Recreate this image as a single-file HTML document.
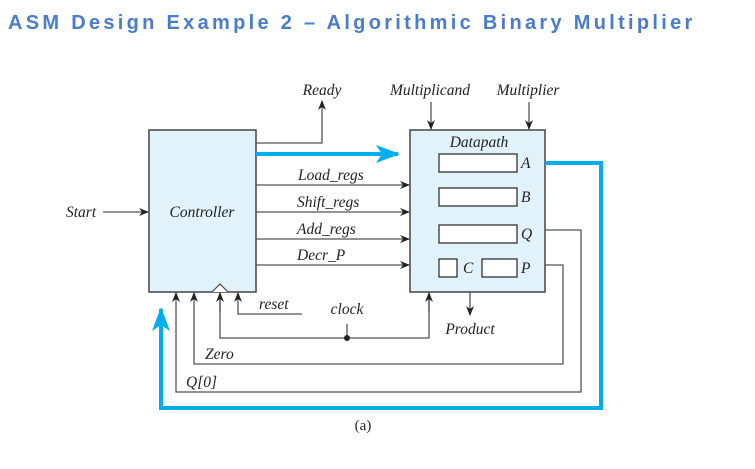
<!DOCTYPE html>
<html><head><meta charset="utf-8"><style>
html,body{margin:0;padding:0;background:#fff;}
svg{display:block;}
.t{font-family:"Liberation Serif",serif;font-style:italic;font-size:15.5px;fill:#222;}
.ln{stroke:#555;stroke-width:1.3;fill:none;}
.bl{stroke:#00aeef;stroke-width:4;fill:none;}
</style></head><body>
<svg width="755" height="469" viewBox="0 0 755 469">
<defs>
<marker id="ah" markerWidth="10" markerHeight="8" refX="9" refY="4" orient="auto" markerUnits="userSpaceOnUse"><path d="M0,0 L10,4 L0,8 L3,4 Z" fill="#222"/></marker>
<marker id="bh" markerWidth="24" markerHeight="18" refX="22" refY="9" orient="auto" markerUnits="userSpaceOnUse"><path d="M0,0 L24,9 L0,18 L6,9 Z" fill="#00aeef"/></marker>
</defs>
<text x="8" y="29" style="font-family:'Liberation Sans',sans-serif;font-weight:bold;font-size:20px;fill:#4a7cc9;letter-spacing:3.3px;">ASM Design Example 2 – Algorithmic Binary Multiplier</text>

<rect x="149" y="130" width="107" height="162" fill="#e1f2fa" stroke="#444" stroke-width="1.5"/>
<text class="t" x="202" y="217" text-anchor="middle">Controller</text>
<path d="M212,292 L220,284 L228,292" stroke="#444" stroke-width="1.2" fill="#fff"/>

<rect x="410" y="130" width="135" height="162" fill="#e1f2fa" stroke="#444" stroke-width="1.5"/>
<text class="t" x="479" y="147" text-anchor="middle">Datapath</text>
<rect x="439" y="154" width="78" height="18" fill="#fff" stroke="#333" stroke-width="1.3"/>
<rect x="439" y="188" width="78" height="18" fill="#fff" stroke="#333" stroke-width="1.3"/>
<rect x="439" y="225" width="78" height="18" fill="#fff" stroke="#333" stroke-width="1.3"/>
<rect x="439" y="259" width="18" height="18" fill="#fff" stroke="#333" stroke-width="1.3"/>
<rect x="482" y="259" width="35" height="18" fill="#fff" stroke="#333" stroke-width="1.3"/>
<text class="t" x="521" y="168">A</text>
<text class="t" x="521" y="202">B</text>
<text class="t" x="521" y="239">Q</text>
<text class="t" x="463" y="273">C</text>
<text class="t" x="521" y="273">P</text>

<line class="bl" x1="256" y1="154" x2="398" y2="154" marker-end="url(#bh)"/>
<line class="ln" x1="256" y1="185" x2="409" y2="185" marker-end="url(#ah)"/>
<line class="ln" x1="256" y1="212" x2="409" y2="212" marker-end="url(#ah)"/>
<line class="ln" x1="256" y1="239" x2="409" y2="239" marker-end="url(#ah)"/>
<line class="ln" x1="256" y1="265" x2="409" y2="265" marker-end="url(#ah)"/>
<text class="t" x="298" y="180">Load_regs</text>
<text class="t" x="297" y="207">Shift_regs</text>
<text class="t" x="297" y="234">Add_regs</text>
<text class="t" x="297" y="260">Decr_P</text>

<polyline class="ln" points="256,143 322,143 322,101" marker-end="url(#ah)"/>
<text class="t" x="322" y="95" text-anchor="middle">Ready</text>
<line class="ln" x1="431" y1="102" x2="431" y2="129" marker-end="url(#ah)"/>
<line class="ln" x1="529" y1="102" x2="529" y2="129" marker-end="url(#ah)"/>
<text class="t" x="430" y="95" text-anchor="middle">Multiplicand</text>
<text class="t" x="528" y="95" text-anchor="middle">Multiplier</text>

<line class="ln" x1="103" y1="212" x2="148" y2="212" marker-end="url(#ah)"/>
<text class="t" x="66" y="217">Start</text>

<polyline class="bl" points="545,163 601,163 601,408 161,408 161,309" marker-end="url(#bh)"/>
<polyline class="ln" points="545,230 581,230 581,392 176,392 176,293" marker-end="url(#ah)"/>
<polyline class="ln" points="545,265 563,265 563,364 194,364 194,293" marker-end="url(#ah)"/>
<text class="t" x="205" y="359">Zero</text>
<text class="t" x="186" y="387">Q[0]</text>

<polyline class="ln" points="220,293 220,338 429,338 429,293"/>
<line class="ln" x1="220" y1="312" x2="220" y2="293" marker-end="url(#ah)"/>
<line class="ln" x1="429" y1="312" x2="429" y2="293" marker-end="url(#ah)"/>
<line class="ln" x1="347" y1="324" x2="347" y2="338"/>
<circle cx="347" cy="338" r="3" fill="#222"/>
<text class="t" x="347" y="314" text-anchor="middle">clock</text>
<polyline class="ln" points="302,314 238,314 238,293" marker-end="url(#ah)"/>
<text class="t" x="259" y="309">reset</text>

<line class="ln" x1="470" y1="292" x2="470" y2="315" marker-end="url(#ah)"/>
<text class="t" x="470" y="334" text-anchor="middle">Product</text>
<text x="363" y="430" text-anchor="middle" style="font-family:'Liberation Serif',serif;font-size:15px;fill:#222;">(a)</text>
</svg>
</body></html>
